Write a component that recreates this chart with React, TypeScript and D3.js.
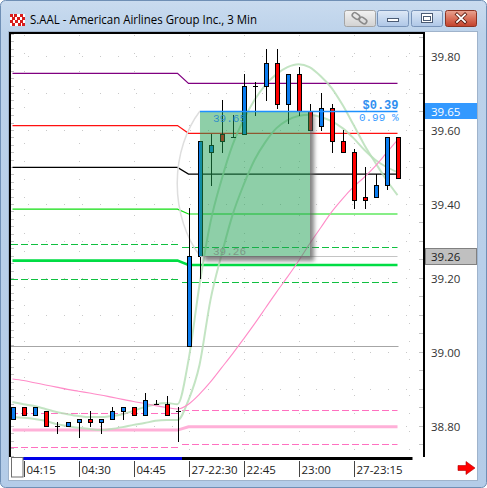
import React from 'react';
import * as d3 from 'd3';

// 3-minute bars: tail of the prior session and the new session
const times = [
  '04:12', '04:15', '04:18', '04:21', '04:24', '04:27', '04:30', '04:33', '04:36', '04:39',
  '04:42', '04:45', '04:48', '04:51', '04:54', '04:57',
  '22:30', '22:33', '22:36', '22:39', '22:42', '22:45', '22:48', '22:51', '22:54', '22:57',
  '23:00', '23:03', '23:06', '23:09', '23:12', '23:15', '23:18', '23:21', '23:24', '23:27',
];
const sessionStart = '22:30';

const opens = [
  38.82, 38.85, 38.83, 38.84, 38.80, 38.80, 38.81, 38.82, 38.81, 38.82, 38.84, 38.85, 38.83, 38.86, 38.86, 38.84,
  39.015, 39.26, 39.54, 39.59, 39.58, 39.59, 39.72, 39.72, 39.78, 39.67, 39.75, 39.65, 39.61, 39.66, 39.57, 39.54, 39.42, 39.42, 39.45, 39.58,
];
const highs = [
  38.85, 38.85, 38.85, 38.84, 38.81, 38.81, 38.82, 38.84, 38.82, 38.85, 38.85, 38.85, 38.89, 38.87, 38.88, 38.85,
  39.39, 39.57, 39.59, 39.68, 39.64, 39.75, 39.73, 39.82, 39.82, 39.75, 39.77, 39.67, 39.70, 39.67, 39.60, 39.55, 39.50, 39.48, 39.58, 39.58,
];
const lows = [
  38.82, 38.83, 38.83, 38.80, 38.78, 38.80, 38.77, 38.80, 38.78, 38.82, 38.82, 38.83, 38.83, 38.86, 38.83, 38.76,
  39.015, 39.20, 39.45, 39.54, 39.58, 39.59, 39.64, 39.68, 39.66, 39.62, 39.64, 39.60, 39.60, 39.54, 39.54, 39.39, 39.39, 39.42, 39.44, 39.47,
];
const closes = [
  38.85, 38.83, 38.85, 38.80, 38.80, 38.81, 38.82, 38.81, 38.82, 38.84, 38.85, 38.83, 38.87, 38.86, 38.83, 38.84,
  39.26, 39.57, 39.56, 39.57, 39.58, 39.72, 39.72, 39.78, 39.67, 39.75, 39.65, 39.60, 39.66, 39.57, 39.54, 39.41, 39.41, 39.45, 39.58, 39.47,
];

// study lines, one value per bar
const slowAverage = [
  38.927, 38.923, 38.917, 38.911, 38.905, 38.899, 38.894, 38.889, 38.884, 38.878, 38.872, 38.866, 38.861, 38.855, 38.850, 38.846,
  38.859, 38.886, 38.919, 38.957, 38.995, 39.035, 39.076, 39.119, 39.162, 39.203, 39.246, 39.292, 39.335, 39.378, 39.414, 39.446, 39.473, 39.503, 39.538, 39.573,
];
const fastBand = [
  38.865, 38.859, 38.854, 38.846, 38.838, 38.832, 38.827, 38.824, 38.824, 38.827, 38.832, 38.841, 38.851, 38.859, 38.862, 38.859,
  38.978, 39.181, 39.351, 39.465, 39.559, 39.627, 39.681, 39.722, 39.751, 39.770, 39.778, 39.770, 39.746, 39.714, 39.668, 39.614, 39.559, 39.511, 39.465, 39.424,
];
const midBand = [
  38.824, 38.822, 38.819, 38.814, 38.805, 38.800, 38.795, 38.792, 38.789, 38.792, 38.797, 38.803, 38.808, 38.814, 38.816, 38.816,
  38.870, 38.965, 39.141, 39.262, 39.370, 39.451, 39.519, 39.568, 39.605, 39.627, 39.638, 39.641, 39.635, 39.624, 39.605, 39.578, 39.546, 39.519, 39.500, 39.486,
];

// session levels: [prior session, current session]
const purpleLevel = [39.753, 39.726];
const redLevel = [39.612, 39.591];
const blackLevel = [39.499, 39.481];
const greenLevel = [39.386, 39.373];
const greenDashUpper = [39.291, 39.283];
const greenThickLevel = [39.247, 39.235];
const greenDashLower = [39.196, 39.188];
const pinkDashUpper = [38.836, 38.843];
const pinkThickLevel = [38.789, 38.798];
const pinkDashLower = [38.742, 38.751];
const grayLevel = 39.015;

// price range study
const rangeHigh = 39.65;
const rangeLow = 39.26;
const rangeFrom = '22:33';
const rangeTo = '23:03';

const priceTicks = [39.8, 39.6, 39.4, 39.2, 39.0, 38.8];
const timeTickBars = ['04:15', '04:30', '04:45', '22:30', '22:45', '23:00', '23:15'];
const timeTickLabels = ['04:15', '04:30', '04:45', '27-22:30', '22:45', '23:00', '27-23:15'];

const TITLE = 'S.AAL - American Airlines Group Inc., 3 Min';
const AXIS_FONT = "'Open Sans', 'Noto Sans', sans-serif";
const MONO = "'Liberation Mono', 'DejaVu Sans Mono', monospace";

export default function App() {
  const W = 487;
  const H = 488;
  const plot = { left: 10, top: 33, right: 424, bottom: 457 };

  const x = d3.scalePoint<string>().domain(times).range([12.5, 397.5]);
  const y = d3.scaleLinear().domain([38.8, 39.8]).range([426, 56]);
  const X = (i: number) => x(times[i]) as number;
  const split = times.indexOf(sessionStart);
  const sess = (i: number) => (i < split ? 0 : 1);
  const step = x.step();
  const last = times.length - 1;

  const lineLin = d3.line<[number, number]>().x((d) => d[0]).y((d) => d[1]);
  const lineSmooth = d3
    .line<number>()
    .x((_, i) => X(i))
    .y((d) => y(d))
    .curve(d3.curveMonotoneX);

  const levelPath = (lv: number[]) =>
    lineLin(times.map((_, i) => [X(i), y(lv[sess(i)])] as [number, number])) as string;

  const dashSegs = (lv: number[]) => [
    { x1: plot.left + 1, x2: X(split - 1) + 3.5, y: y(lv[0]) },
    { x1: X(split) - 6.5, x2: X(last), y: y(lv[1]) },
  ];

  const solidLevels = [
    { v: purpleLevel, c: '#800080', w: 1.2 },
    { v: redLevel, c: '#ff1010', w: 1.2 },
    { v: blackLevel, c: '#000000', w: 1.2 },
    { v: greenLevel, c: '#10dd10', w: 1.2 },
    { v: greenThickLevel, c: '#00dd44', w: 2.6 },
    { v: pinkThickLevel, c: '#ffb0d8', w: 3 },
  ];
  const dashedLevels = [
    { v: greenDashUpper, c: '#10c040' },
    { v: greenDashLower, c: '#10c040' },
    { v: pinkDashUpper, c: '#ff70c0' },
    { v: pinkDashLower, c: '#ff70c0' },
  ];

  // grid
  const gridX = d3.range(1, times.length + 2, 5).map((k) => X(0) + k * step);
  const gridY = d3.range(38.8, 39.85, 0.1).map((p) => y(p));
  const minorLeft = d3.range(38.66, 39.88, 0.02).map((p) => y(p));
  const minorRight = d3.range(38.7, 39.9, 0.05).map((p) => y(p));

  // price range box
  const i0 = times.indexOf(rangeFrom);
  const i1 = times.indexOf(rangeTo);
  const bx0 = Math.round(X(i0));
  const bx1 = Math.round(X(i1));
  const by0 = Math.round(y(rangeHigh));
  const by1 = Math.round(y(rangeLow));
  const diff = rangeHigh - rangeLow;
  const pct = (diff / rangeLow) * 100;
  const ecx = (bx0 + bx1) / 2;
  const ecy = (by0 + by1) / 2;
  const erx = ((bx1 - bx0) / 2) * Math.SQRT2;
  const ery = ((by1 - by0) / 2) * Math.SQRT2;
  void ecx;
  void ecy;

  const upColor = '#0a7cf0';
  const downColor = '#ff0000';

  return (
    <svg
      width={W}
      height={H}
      viewBox={`0 0 ${W} ${H}`}
      style={{ position: 'absolute', left: 0, top: 0, display: 'block' }}
    >
      <defs>
        <linearGradient id="frameGrad" x1="0" y1="0" x2="0" y2="1">
          <stop offset="0" stopColor="#c9dbef" />
          <stop offset="0.07" stopColor="#bcd2ea" />
          <stop offset="1" stopColor="#b4cce8" />
        </linearGradient>
        <linearGradient id="btnGray" x1="0" y1="0" x2="0" y2="1">
          <stop offset="0" stopColor="#f2f2f2" />
          <stop offset="1" stopColor="#d2d2d2" />
        </linearGradient>
        <linearGradient id="btnBlue" x1="0" y1="0" x2="0" y2="1">
          <stop offset="0" stopColor="#dfe9f6" />
          <stop offset="0.5" stopColor="#c6d8ef" />
          <stop offset="1" stopColor="#aec6e6" />
        </linearGradient>
        <linearGradient id="btnRed" x1="0" y1="0" x2="0" y2="1">
          <stop offset="0" stopColor="#e9a593" />
          <stop offset="0.5" stopColor="#d9705a" />
          <stop offset="1" stopColor="#c2412b" />
        </linearGradient>
        <clipPath id="plotClip">
          <rect x={plot.left + 1} y={plot.top + 1} width={plot.right - plot.left - 2} height={plot.bottom - plot.top - 1} />
        </clipPath>
        <clipPath id="outsideBox">
          <path
            clipRule="evenodd"
            d={`M0 0H${W}V${H}H0Z M${bx0} ${by0}H${bx1}V${by1}H${bx0}Z`}
          />
        </clipPath>
        <filter id="soft" x="-20%" y="-20%" width="140%" height="140%">
          <feGaussianBlur stdDeviation="2.2" />
        </filter>
      </defs>

      {/* window frame */}
      <rect x={0.5} y={0.5} width={W - 1} height={H - 1} rx={5} fill="url(#frameGrad)" stroke="#6f8fb5" />
      <rect x={8.5} y={31.5} width={469} height={449} fill="#ffffff" stroke="#9fb3cb" />

      {/* title icon */}
      <g>
        <rect x={10} y={14} width={15} height={12} fill="#ffffff" />
        {[
          [10, 14], [14, 14], [20, 14], [12, 17], [17, 17], [22, 17], [10, 20], [15, 20], [20, 20], [12, 23], [18, 23], [22, 23],
        ].map(([a, b], k) => (
          <rect key={k} x={a} y={b} width={3} height={3} fill="#d81e1e" />
        ))}
      </g>
      <text
        x={30}
        y={23.5}
        fontFamily={AXIS_FONT}
        fontSize={12}
        fill="#000"
        textLength={227}
        lengthAdjust="spacingAndGlyphs"
      >
        {TITLE}
      </text>

      {/* title buttons */}
      <rect x={344.5} y={10.5} width={31} height={16} rx={2} fill="url(#btnGray)" stroke="#a4a4a4" />
      <g fill="none" stroke="#8a8a8a" strokeWidth={1.6}>
        <rect x={352} y={13.5} width={8} height={5} rx={2.5} transform="rotate(35 356 16)" />
        <rect x={359} y={18} width={8} height={5} rx={2.5} transform="rotate(35 363 20.5)" />
      </g>
      <rect x={377.5} y={10.5} width={31} height={16} rx={2} fill="url(#btnBlue)" stroke="#7893b8" />
      <rect x={387.5} y={18.5} width={11} height={3} fill="#ffffff" stroke="#4b5b74" />
      <rect x={411.5} y={10.5} width={31} height={16} rx={2} fill="url(#btnBlue)" stroke="#7893b8" />
      <rect x={421.5} y={13.5} width={11} height={9} fill="#ffffff" stroke="#4b5b74" />
      <rect x={423.5} y={16.5} width={7} height={4} fill="none" stroke="#4b5b74" />
      <rect x={445.5} y={10.5} width={31} height={16} rx={2} fill="url(#btnRed)" stroke="#8c3322" />
      <g stroke="#5a1c10" strokeWidth={3.4} strokeLinecap="square">
        <line x1={457} y1={14.5} x2={465} y2={22} />
        <line x1={465} y1={14.5} x2={457} y2={22} />
      </g>
      <g stroke="#ffffff" strokeWidth={1.8} strokeLinecap="square">
        <line x1={457} y1={14.5} x2={465} y2={22} />
        <line x1={465} y1={14.5} x2={457} y2={22} />
      </g>

      {/* plot contents */}
      <g clipPath="url(#plotClip)">
        {gridY.map((gy, k) => (
          <line key={`gy${k}`} x1={plot.left} x2={plot.right} y1={Math.round(gy) + 0.5} y2={Math.round(gy) + 0.5} stroke="#c8c8c8" strokeDasharray="1,17" />
        ))}
        {gridX.map((gx, k) => (
          <line key={`gx${k}`} x1={Math.round(gx) + 0.5} x2={Math.round(gx) + 0.5} y1={plot.top + 2} y2={plot.bottom} stroke="#c8c8c8" strokeDasharray="1,17" />
        ))}
        {minorLeft.map((my, k) => (
          <line key={`ml${k}`} x1={11} x2={14} y1={Math.round(my) + 0.5} y2={Math.round(my) + 0.5} stroke="#c4c4c4" />
        ))}
        {minorRight.map((my, k) => (
          <line key={`mr${k}`} x1={419} x2={423} y1={Math.round(my) + 0.5} y2={Math.round(my) + 0.5} stroke="#c4c4c4" />
        ))}

        {/* session levels */}
        <line x1={plot.left} x2={X(last) + 1} y1={Math.round(y(grayLevel)) + 0.5} y2={Math.round(y(grayLevel)) + 0.5} stroke="#a6a6a6" strokeWidth={1.2} />
        {dashedLevels.map((lv, k) =>
          dashSegs(lv.v).map((s, j) => (
            <line key={`d${k}-${j}`} x1={s.x1} x2={s.x2} y1={Math.round(s.y) + 0.5} y2={Math.round(s.y) + 0.5} stroke={lv.c} strokeWidth={1.2} strokeDasharray="7,3" />
          ))
        )}
        {solidLevels.map((lv, k) => (
          <path key={`s${k}`} d={levelPath(lv.v)} fill="none" stroke={lv.c} strokeWidth={lv.w} />
        ))}

        {/* studies */}
        <path d={lineSmooth(fastBand) as string} fill="none" stroke="#b9dfb9" strokeOpacity={0.85} strokeWidth={2} />
        <path d={lineSmooth(midBand) as string} fill="none" stroke="#b9dfb9" strokeOpacity={0.85} strokeWidth={2} />
        <path d={lineSmooth(slowAverage) as string} fill="none" stroke="#ff8cc8" strokeWidth={1.1} />
        <path
          d={`M${bx0} ${by0} A ${erx} ${ery} 0 0 0 ${bx0} ${by1}`}
          fill="none"
          stroke="#dedede"
          strokeWidth={1.5}
        />

        {/* candles */}
        {times.map((t, i) => {
          const cx = Math.round(X(i));
          const o = opens[i];
          const c = closes[i];
          const yh = Math.round(y(highs[i]));
          const yl = Math.round(y(lows[i]));
          const top = Math.round(y(Math.max(o, c)));
          const bot = Math.round(y(Math.min(o, c)));
          const doji = Math.abs(o - c) < 1e-9;
          return (
            <g key={t}>
              <line x1={cx + 0.5} x2={cx + 0.5} y1={yh} y2={yl + 1} stroke="#000" />
              {doji ? (
                <line x1={cx - 2} x2={cx + 3} y1={top + 0.5} y2={top + 0.5} stroke="#000" />
              ) : (
                <rect
                  x={cx - 1.5}
                  y={top + 0.5}
                  width={4}
                  height={Math.max(bot - top, 2)}
                  fill={c > o ? upColor : downColor}
                  stroke="#000"
                />
              )}
            </g>
          );
        })}

        {/* price range box */}
        <line x1={bx0} x2={X(last)} y1={by1 + 0.5} y2={by1 + 0.5} stroke="#c4c4c4" />
        <g clipPath="url(#outsideBox)">
          <rect x={bx0 + 4} y={by0 + 4} width={bx1 - bx0} height={by1 - by0 + 1} fill="#5a5a5a" opacity={0.75} filter="url(#soft)" />
        </g>
        <rect x={bx0} y={by0} width={bx1 - bx0} height={by1 - by0} fill="#1ea052" fillOpacity={0.5} />
        <line x1={bx0} x2={X(last)} y1={by0 + 0.5} y2={by0 + 0.5} stroke="#1e90ff" strokeWidth={1.3} />
        <text x={bx0 + 13} y={by0 + 11} fontFamily={MONO} fontSize={11} fill="#1f86cc" fillOpacity={0.9}>
          {rangeHigh.toFixed(2)}
        </text>
        <text x={bx0 + 13} y={by1 - 1} fontFamily={MONO} fontSize={11} fill="#7c9886">
          {rangeLow.toFixed(2)}
        </text>
        <text x={X(last) + 1} y={by0 - 2} textAnchor="end" fontFamily={MONO} fontSize={12} fontWeight="bold" fill="#2f8ff0">
          {`$${diff.toFixed(2)}`}
        </text>
        <text x={X(last) + 1} y={by0 + 10} textAnchor="end" fontFamily={MONO} fontSize={11} fill="#3a9cff">
          {`${pct.toFixed(2)} %`}
        </text>
      </g>

      {/* plot frame */}
      <g stroke="#000" strokeWidth={2}>
        <line x1={plot.left} x2={plot.left} y1={plot.top} y2={plot.bottom} />
        <line x1={plot.left - 1} x2={plot.right + 1} y1={plot.top} y2={plot.top} />
        <line x1={plot.right} x2={plot.right} y1={plot.top} y2={plot.bottom} />
      </g>
      <rect x={X(0) + step - 0.5} y={plot.bottom} width={X(split - 1) + 4.5 - (X(0) + step - 0.5)} height={3} fill="#0000e8" />
      <rect x={X(split - 1) + 4.5} y={plot.bottom} width={X(last) + 15 - (X(split - 1) + 4.5)} height={3} fill="#000000" />

      {/* price axis */}
      {priceTicks.map((p) => (
        <text key={p} x={431} y={y(p) + 4.5} fontFamily={AXIS_FONT} fontSize={11.5} fill="#333">
          {p.toFixed(2)}
        </text>
      ))}
      <rect x={425} y={by0 - 8} width={52} height={16} fill="#3399ff" />
      <text x={431} y={by0 + 4.5} fontFamily={AXIS_FONT} fontSize={11.5} fill="#ffffff">
        {rangeHigh.toFixed(2)}
      </text>
      <rect x={425.5} y={by1 - 7.5} width={51} height={16} fill="#c0c0c0" stroke="#808080" />
      <text x={431} y={by1 + 5} fontFamily={AXIS_FONT} fontSize={11.5} fill="#222">
        {rangeLow.toFixed(2)}
      </text>

      {/* time axis */}
      <rect x={11.5} y={457.5} width={11.5} height={19.5} fill="#ffffff" stroke="#707070" />
      {timeTickBars.map((t, k) => {
        const tx = Math.round(x(t) as number) + 0.5;
        return (
          <g key={t}>
            <line x1={tx} x2={tx} y1={461} y2={477} stroke="#444" />
            <text x={tx + 2} y={474} fontFamily={AXIS_FONT} fontSize={11.5} fill="#222">
              {timeTickLabels[k]}
            </text>
          </g>
        );
      })}
      <path d="M458 465.5 H466 V461.5 L475 468 L466 474.5 V470.5 H458 Z" fill="#ff0000" stroke="#b00000" strokeWidth={0.6} />
    </svg>
  );
}
